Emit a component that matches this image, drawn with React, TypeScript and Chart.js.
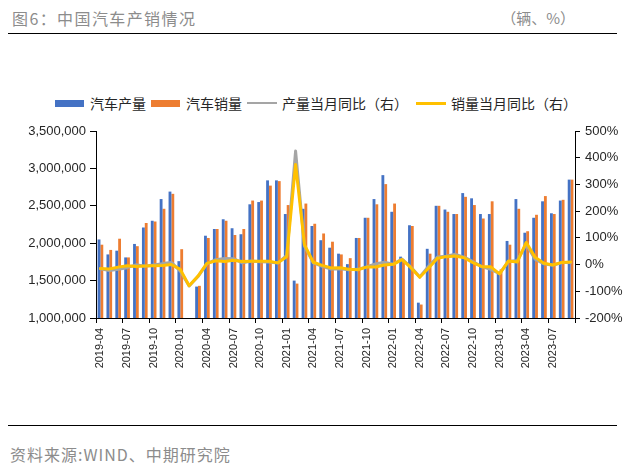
import React, { useEffect, useRef } from 'react';
import { Chart, registerables } from 'chart.js';

Chart.register(...registerables);

const months = [
  '2019-04', '2019-05', '2019-06', '2019-07', '2019-08', '2019-09', '2019-10', '2019-11', '2019-12',
  '2020-01', '2020-02', '2020-03', '2020-04', '2020-05', '2020-06', '2020-07', '2020-08', '2020-09', '2020-10', '2020-11', '2020-12',
  '2021-01', '2021-02', '2021-03', '2021-04', '2021-05', '2021-06', '2021-07', '2021-08', '2021-09', '2021-10', '2021-11', '2021-12',
  '2022-01', '2022-02', '2022-03', '2022-04', '2022-05', '2022-06', '2022-07', '2022-08', '2022-09', '2022-10', '2022-11', '2022-12',
  '2023-01', '2023-02', '2023-03', '2023-04', '2023-05', '2023-06', '2023-07', '2023-08', '2023-09',
];

// 汽车产量 (辆)
const production = [
  2050000, 1850000, 1900000, 1810000, 1990000, 2210000, 2300000, 2590000, 2690000,
  1760000, 285000, 1420000, 2100000, 2190000, 2320000, 2200000, 2120000, 2520000, 2550000, 2840000, 2840000,
  2390000, 1500000, 2460000, 2230000, 2040000, 1940000, 1860000, 1720000, 2070000, 2340000, 2590000, 2910000,
  2420000, 1820000, 2240000, 1205000, 1925000, 2500000, 2450000, 2390000, 2670000, 2600000, 2390000, 2390000,
  1590000, 2030000, 2590000, 2140000, 2340000, 2560000, 2400000, 2570000, 2850000,
];

// 汽车销量 (辆)
const sales = [
  1980000, 1910000, 2060000, 1810000, 1960000, 2270000, 2290000, 2460000, 2660000,
  1920000, 310000, 1430000, 2070000, 2190000, 2300000, 2110000, 2190000, 2570000, 2570000, 2770000, 2830000,
  2510000, 1460000, 2530000, 2260000, 2130000, 2020000, 1850000, 1800000, 2070000, 2340000, 2520000, 2790000,
  2530000, 1780000, 2230000, 1180000, 1860000, 2500000, 2420000, 2390000, 2620000, 2510000, 2330000, 2560000,
  1650000, 1980000, 2460000, 2160000, 2380000, 2630000, 2390000, 2580000, 2850000,
];

// 产量当月同比 (%)
const productionYoY = [
  -15.8, -22.4, -17.3, -11.6, -0.9, -6.4, -1.8, 3.6, 8.2,
  -24.4, -79.8, -44.7, 2.3, 18.2, 22.5, 21.9, 6.3, 13.4, 11.0, 10.0, 5.7,
  34.6, 425.0, 69.5, 6.3, -6.8, -16.5, -15.5, -19.1, -17.9, -9.0, 2.6, 8.5,
  1.4, 20.6, -9.1, -46.2, -5.7, 28.2, 31.5, 38.3, 28.1, 11.2, -7.9, -17.9,
  -34.0, 11.9, 15.3, 76.0, 19.9, 2.8, -2.4, 7.5, 8.0,
];

// 销量当月同比 (%)
const salesYoY = [
  -14.6, -16.4, -9.6, -4.3, -6.9, -5.2, -4.0, -3.6, 0.1,
  -18.0, -79.1, -43.3, 4.4, 14.5, 11.6, 16.4, 11.6, 12.8, 12.5, 12.6, 6.4,
  29.5, 375.0, 74.9, 8.6, -3.1, -12.4, -11.9, -17.8, -19.6, -9.4, -9.1, -1.6,
  0.9, 18.7, -11.7, -47.6, -12.6, 23.8, 29.7, 32.1, 25.7, 6.9, -7.9, -8.4,
  -35.0, 13.5, 9.7, 82.8, 27.9, 4.8, -1.5, 8.2, 9.5,
];

const leftAxisMin = 1000000;
const leftAxisMax = 3500000;
const leftAxisStep = 500000;
const rightAxisMin = -200;
const rightAxisMax = 500;
const rightAxisStep = 100;

const seriesNames = ['汽车产量', '汽车销量', '产量当月同比（右）', '销量当月同比（右）'];
const seriesColors = ['#4472C4', '#ED7D31', '#A5A5A5', '#FFC000'];

const TICK_FONT = "'Liberation Sans', Arial, sans-serif";
const CJK_FONT = "'Noto Sans CJK SC', 'Noto Sans', sans-serif";

function App() {
  const canvasRef = useRef<HTMLCanvasElement | null>(null);

  useEffect(() => {
    const canvas = canvasRef.current;
    if (!canvas) return;
    const chart = new Chart(canvas, {
      type: 'bar',
      data: {
        labels: months,
        datasets: [
          {
            type: 'line',
            label: seriesNames[3],
            data: salesYoY,
            yAxisID: 'y1',
            borderColor: seriesColors[3],
            backgroundColor: seriesColors[3],
            borderWidth: 3,
            pointRadius: 0,
            tension: 0,
            borderJoinStyle: 'round',
            borderCapStyle: 'round',
            order: 0,
          },
          {
            type: 'line',
            label: seriesNames[2],
            data: productionYoY,
            yAxisID: 'y1',
            borderColor: seriesColors[2],
            backgroundColor: seriesColors[2],
            borderWidth: 3,
            pointRadius: 0,
            tension: 0,
            borderJoinStyle: 'round',
            borderCapStyle: 'round',
            order: 1,
          },
          {
            type: 'bar',
            label: seriesNames[0],
            data: production,
            yAxisID: 'y',
            backgroundColor: seriesColors[0],
            categoryPercentage: 0.64,
            barPercentage: 1.0,
            clip: 0,
            order: 2,
          },
          {
            type: 'bar',
            label: seriesNames[1],
            data: sales,
            yAxisID: 'y',
            backgroundColor: seriesColors[1],
            categoryPercentage: 0.64,
            barPercentage: 1.0,
            clip: 0,
            order: 3,
          },
        ],
      } as any,
      options: {
        animation: false,
        responsive: false,
        maintainAspectRatio: false,
        layout: { padding: { top: 16, left: 0, right: 0, bottom: 0 } },
        plugins: {
          legend: { display: false },
          tooltip: { enabled: false },
        },
        scales: {
          x: {
            type: 'category',
            offset: true,
            grid: {
              offset: true,
              drawOnChartArea: false,
              drawTicks: true,
              tickLength: 5,
              lineWidth: 1,
              color: (c: any) =>
                c.index === undefined || c.index % 3 === 0 ? '#000000' : 'rgba(0,0,0,0)',
            },
            border: { display: true, color: '#000000', width: 1 },
            ticks: {
              autoSkip: false,
              minRotation: 90,
              maxRotation: 90,
              padding: 5,
              color: '#262626',
              font: { family: TICK_FONT, size: 11 },
              callback: function (this: any, value: any, index: number) {
                return index % 3 === 0 ? this.getLabelForValue(value) : '';
              },
            },
            afterFit: (s: any) => {
              s.height = 70;
            },
          },
          y: {
            type: 'linear',
            position: 'left',
            min: leftAxisMin,
            max: leftAxisMax,
            grid: {
              drawOnChartArea: false,
              drawTicks: true,
              tickLength: 6,
              color: '#000000',
            },
            border: { display: true, color: '#000000', width: 1 },
            ticks: {
              stepSize: leftAxisStep,
              padding: 4,
              color: '#262626',
              font: { family: TICK_FONT, size: 13 },
              callback: (v: any) => Number(v).toLocaleString('en-US'),
            },
            afterFit: (s: any) => {
              s.width = 96;
            },
          },
          y1: {
            type: 'linear',
            position: 'right',
            min: rightAxisMin,
            max: rightAxisMax,
            grid: {
              drawOnChartArea: false,
              drawTicks: true,
              tickLength: 5,
              color: '#000000',
            },
            border: { display: true, color: '#000000', width: 1 },
            ticks: {
              stepSize: rightAxisStep,
              padding: 5,
              color: '#262626',
              font: { family: TICK_FONT, size: 13 },
              callback: (v: any) => `${v}%`,
            },
            afterFit: (s: any) => {
              s.width = 53;
            },
          },
        },
      } as any,
    });
    return () => {
      chart.destroy();
    };
  }, []);

  const legendText: React.CSSProperties = {
    fontFamily: CJK_FONT,
    fontSize: 14,
    color: '#262626',
    whiteSpace: 'nowrap',
    lineHeight: '18px',
  };

  const box = (color: string): React.CSSProperties => ({
    display: 'inline-block',
    width: 29,
    height: 7,
    background: color,
    marginRight: 6,
    flex: '0 0 auto',
  });

  const line = (color: string, h: number): React.CSSProperties => ({
    display: 'inline-block',
    width: 30,
    height: h,
    background: color,
    marginRight: 5,
    flex: '0 0 auto',
  });

  return (
    <div
      style={{
        position: 'absolute',
        left: 0,
        top: 0,
        width: 628,
        height: 468,
        background: '#ffffff',
        overflow: 'hidden',
      }}
    >
      <div
        style={{
          position: 'absolute',
          left: 12,
          top: 7,
          fontFamily: CJK_FONT,
          fontSize: 16,
          letterSpacing: 1.4,
          lineHeight: '22px',
          color: '#8c8c8c',
          whiteSpace: 'nowrap',
        }}
      >
        图6：中国汽车产销情况
      </div>
      <div
        style={{
          position: 'absolute',
          right: 53,
          top: 7,
          fontFamily: CJK_FONT,
          fontSize: 15,
          lineHeight: '22px',
          color: '#8c8c8c',
          whiteSpace: 'nowrap',
        }}
      >
        （辆、%）
      </div>
      <div
        style={{
          position: 'absolute',
          left: 8,
          top: 33,
          width: 609,
          height: 0,
          borderTop: '1.5px solid #000',
        }}
      />
      <div
        style={{
          position: 'absolute',
          left: 55,
          top: 94,
          height: 18,
          display: 'flex',
          alignItems: 'center',
          zIndex: 2,
        }}
      >
        <span style={box(seriesColors[0])} />
        <span style={{ ...legendText, marginRight: 5 }}>{seriesNames[0]}</span>
        <span style={box(seriesColors[1])} />
        <span style={{ ...legendText, marginRight: 5 }}>{seriesNames[1]}</span>
        <span style={line(seriesColors[2], 2)} />
        <span style={{ ...legendText, marginRight: 8 }}>{seriesNames[2]}</span>
        <span style={line(seriesColors[3], 3)} />
        <span style={legendText}>{seriesNames[3]}</span>
      </div>
      <canvas
        ref={canvasRef}
        width={628}
        height={273}
        style={{ position: 'absolute', left: 0, top: 115, width: 628, height: 273, display: 'block' }}
      />
      <div
        style={{
          position: 'absolute',
          left: 8,
          top: 425,
          width: 609,
          height: 0,
          borderTop: '1.5px solid #000',
        }}
      />
      <div
        style={{
          position: 'absolute',
          left: 10,
          top: 443,
          fontFamily: CJK_FONT,
          fontSize: 16,
          letterSpacing: 1,
          lineHeight: '22px',
          color: '#8c8c8c',
          whiteSpace: 'nowrap',
        }}
      >
        资料来源:WIND、中期研究院
      </div>
    </div>
  );
}

export default App;
